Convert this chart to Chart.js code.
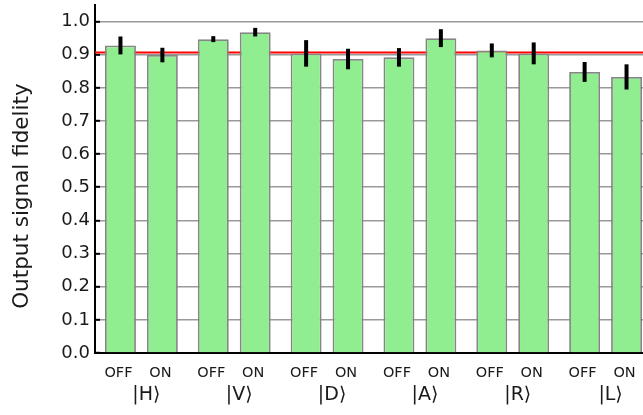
<!DOCTYPE html>
<html>
<head>
<meta charset="utf-8">
<script src="https://cdn.jsdelivr.net/npm/chart.js@4.4.1/dist/chart.umd.min.js"></script>
<style>
  html, body { margin: 0; padding: 0; background: #fff; overflow: hidden; width: 643px; height: 415px; }
  canvas { display: block; }
</style>
</head>
<body>
<canvas id="fidelity" width="655" height="415"></canvas>
<script>
// Input polarization states and the two switch settings per state
const STATES = ['|H\u27E9', '|V\u27E9', '|D\u27E9', '|A\u27E9', '|R\u27E9', '|L\u27E9'];
const SWITCH_LABELS = ['OFF', 'ON'];

// Measured output fidelities and their uncertainties
const FIDELITY_OFF = [0.928, 0.947, 0.904, 0.892, 0.913, 0.848];
const FIDELITY_ON  = [0.899, 0.968, 0.887, 0.950, 0.904, 0.833];
const ERROR_OFF    = [0.027, 0.009, 0.040, 0.028, 0.021, 0.030];
const ERROR_ON     = [0.022, 0.013, 0.031, 0.027, 0.033, 0.038];

// Reference fidelity level
const THRESHOLD = 0.907;

// Vertical axis
const Y_TICKS = [0.0, 0.1, 0.2, 0.3, 0.4, 0.5, 0.6, 0.7, 0.8, 0.9, 1.0];
const Y_MAX = 1.05;

const FONT = 'DejaVu Sans';
const TEXT = '#1a1a1a';
const CAT_PCT = 0.903;
const BAR_PCT = 0.738;

// Threshold line under the bars, error bars on top of them
const overlays = {
  id: 'overlays',
  beforeDatasetsDraw(chart) {
    const { ctx, chartArea, scales } = chart;
    const y = scales.y.getPixelForValue(THRESHOLD);
    ctx.save();
    ctx.strokeStyle = '#ff0000';
    ctx.lineWidth = 2;
    ctx.beginPath();
    ctx.moveTo(chartArea.left, y);
    ctx.lineTo(chartArea.right, y);
    ctx.stroke();
    ctx.restore();
  },
  afterDatasetsDraw(chart) {
    const { ctx, scales } = chart;
    const errors = [ERROR_OFF, ERROR_ON];
    ctx.save();
    ctx.strokeStyle = '#000';
    ctx.lineWidth = 4;
    ctx.lineCap = 'butt';
    chart.data.datasets.forEach((ds, di) => {
      chart.getDatasetMeta(di).data.forEach((bar, i) => {
        const v = ds.data[i];
        const e = errors[di][i];
        ctx.beginPath();
        ctx.moveTo(bar.x, scales.y.getPixelForValue(v + e));
        ctx.lineTo(bar.x, scales.y.getPixelForValue(v - e));
        ctx.stroke();
      });
    });
    ctx.restore();
  }
};

const barStyle = {
  backgroundColor: '#90ee90',
  borderColor: '#858585',
  borderWidth: 1.8,
  categoryPercentage: CAT_PCT,
  barPercentage: BAR_PCT
};

new Chart(document.getElementById('fidelity'), {
  type: 'bar',
  data: {
    labels: STATES,
    datasets: [
      Object.assign({ label: SWITCH_LABELS[0], data: FIDELITY_OFF }, barStyle),
      Object.assign({ label: SWITCH_LABELS[1], data: FIDELITY_ON }, barStyle)
    ]
  },
  options: {
    responsive: false,
    animation: false,
    devicePixelRatio: 1,
    layout: { padding: { left: 0, right: 3, top: 5, bottom: 8 } },
    plugins: { legend: { display: false }, tooltip: { enabled: false } },
    scales: {
      y: {
        min: 0,
        max: Y_MAX,
        afterBuildTicks: s => { s.ticks = Y_TICKS.map(v => ({ value: v })); },
        afterFit: s => { s.width = 95; s.paddingTop = 0; s.paddingBottom = 0; },
        ticks: {
          callback: v => v.toFixed(1),
          font: { family: FONT, size: 18 },
          color: TEXT,
          padding: 10
        },
        grid: { color: '#999999', lineWidth: 1.6, tickColor: '#000', tickWidth: 2, tickLength: -5, drawTicks: true },
        border: { display: true, color: '#000', width: 2 },
        title: {
          display: true,
          text: 'Output signal fidelity\u00a0\u00a0\u00a0\u00a0\u00a0',
          font: { family: FONT, size: 21.5 },
          color: TEXT,
          padding: { top: 10, bottom: 0 }
        }
      },
      x: {
        weight: 2,
        afterFit: s => { s.height = 23; },
        grid: { display: false, drawTicks: false },
        border: { display: false },
        ticks: {
          font: { family: FONT, size: 19 },
          color: TEXT,
          padding: 0,
          labelOffset: 5,
          maxRotation: 0
        }
      },
      // OFF / ON row, placed under each bar; also carries the bottom axis line
      x2: {
        type: 'linear',
        position: 'bottom',
        weight: 1,
        z: 1,
        offset: false,
        min: 0,
        max: STATES.length,
        afterFit: s => { s.height = 31; },
        afterBuildTicks: s => {
          const half = CAT_PCT / 4;
          const ticks = [];
          STATES.forEach((_, i) => {
            ticks.push({ value: i + 0.5 - half });
            ticks.push({ value: i + 0.5 + half });
          });
          s.ticks = ticks;
        },
        grid: { display: false, drawTicks: false },
        border: { display: true, color: '#000', width: 2 },
        ticks: {
          autoSkip: false,
          maxRotation: 0,
          callback: (v, i) => SWITCH_LABELS[i % 2],
          font: { family: FONT, size: 14.5 },
          color: TEXT,
          padding: 12,
          labelOffset: -2
        }
      }
    }
  },
  plugins: [overlays]
});
</script>
</body>
</html>
